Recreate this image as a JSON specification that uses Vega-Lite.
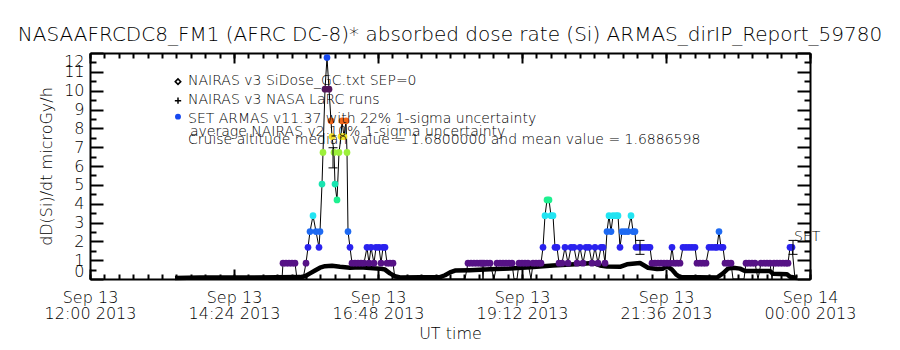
{
  "$schema": "https://vega.github.io/schema/vega-lite/v6.json",
  "width": 720,
  "height": 226,
  "autosize": {"type": "none"},
  "padding": {"left": 90, "top": 53, "right": 90, "bottom": 71},
  "background": "white",
  "title": {"text": "NASAAFRCDC8_FM1 (AFRC DC-8)* absorbed dose rate (Si) ARMAS_dirIP_Report_59780", "font": "DejaVu Sans", "fontSize": 20, "fontWeight": 200, "color": "black", "anchor": "middle", "offset": 7},
  "config": {
    "view": {"stroke": "black", "strokeWidth": 1},
    "axis": {"grid": false, "zindex": 1, "domainColor": "black", "tickColor": "black", "labelColor": "black", "titleColor": "black", "labelFont": "DejaVu Sans", "titleFont": "DejaVu Sans", "titleFontWeight": 200, "labelFontWeight": 200, "domainWidth": 2, "tickWidth": 2}
  },
  "datasets": {
    "nairas": [
      {"t": "2013-09-13T13:25Z", "v": 0.05}, {"t": "2013-09-13T13:50Z", "v": 0.08}, {"t": "2013-09-13T14:40Z", "v": 0.08},
      {"t": "2013-09-13T15:30Z", "v": 0.1}, {"t": "2013-09-13T15:35Z", "v": 0.15}, {"t": "2013-09-13T15:40Z", "v": 0.3},
      {"t": "2013-09-13T15:45Z", "v": 0.45}, {"t": "2013-09-13T15:50Z", "v": 0.6}, {"t": "2013-09-13T15:55Z", "v": 0.68},
      {"t": "2013-09-13T16:02Z", "v": 0.7}, {"t": "2013-09-13T16:10Z", "v": 0.65}, {"t": "2013-09-13T16:20Z", "v": 0.6},
      {"t": "2013-09-13T16:30Z", "v": 0.62}, {"t": "2013-09-13T16:40Z", "v": 0.58}, {"t": "2013-09-13T16:50Z", "v": 0.55},
      {"t": "2013-09-13T16:55Z", "v": 0.5}, {"t": "2013-09-13T17:00Z", "v": 0.3}, {"t": "2013-09-13T17:05Z", "v": 0.15},
      {"t": "2013-09-13T17:10Z", "v": 0.08}, {"t": "2013-09-13T17:50Z", "v": 0.1}, {"t": "2013-09-13T17:55Z", "v": 0.2},
      {"t": "2013-09-13T18:00Z", "v": 0.35}, {"t": "2013-09-13T18:05Z", "v": 0.45}, {"t": "2013-09-13T18:20Z", "v": 0.47},
      {"t": "2013-09-13T18:40Z", "v": 0.52}, {"t": "2013-09-13T19:00Z", "v": 0.56}, {"t": "2013-09-13T19:20Z", "v": 0.63},
      {"t": "2013-09-13T19:43Z", "v": 0.72}, {"t": "2013-09-13T20:05Z", "v": 0.78}, {"t": "2013-09-13T20:23Z", "v": 0.85},
      {"t": "2013-09-13T20:30Z", "v": 0.72}, {"t": "2013-09-13T20:37Z", "v": 0.66}, {"t": "2013-09-13T20:50Z", "v": 0.65},
      {"t": "2013-09-13T20:57Z", "v": 0.78}, {"t": "2013-09-13T21:10Z", "v": 0.85}, {"t": "2013-09-13T21:18Z", "v": 0.6},
      {"t": "2013-09-13T21:27Z", "v": 0.53}, {"t": "2013-09-13T21:33Z", "v": 0.55}, {"t": "2013-09-13T21:37Z", "v": 0.68},
      {"t": "2013-09-13T21:42Z", "v": 0.5}, {"t": "2013-09-13T21:46Z", "v": 0.25}, {"t": "2013-09-13T21:50Z", "v": 0.1},
      {"t": "2013-09-13T22:27Z", "v": 0.08}, {"t": "2013-09-13T22:33Z", "v": 0.3}, {"t": "2013-09-13T22:38Z", "v": 0.55},
      {"t": "2013-09-13T22:43Z", "v": 0.6}, {"t": "2013-09-13T22:50Z", "v": 0.55}, {"t": "2013-09-13T22:55Z", "v": 0.42},
      {"t": "2013-09-13T23:20Z", "v": 0.42}, {"t": "2013-09-13T23:23Z", "v": 0.28}, {"t": "2013-09-13T23:37Z", "v": 0.25},
      {"t": "2013-09-13T23:40Z", "v": 0.12}, {"t": "2013-09-13T23:47Z", "v": 0.05}
    ],
    "armas": [
      {"t": "2013-09-13T13:25Z", "v": 0}, {"t": "2013-09-13T15:12Z", "v": 0},
      {"t": "2013-09-13T15:13Z", "v": 0.84}, {"t": "2013-09-13T15:16Z", "v": 0.84}, {"t": "2013-09-13T15:19Z", "v": 0.84}, {"t": "2013-09-13T15:22Z", "v": 0.84}, {"t": "2013-09-13T15:25Z", "v": 0.84},
      {"t": "2013-09-13T15:27Z", "v": 0}, {"t": "2013-09-13T15:33Z", "v": 0},
      {"t": "2013-09-13T15:36Z", "v": 0.84}, {"t": "2013-09-13T15:38Z", "v": 1.68}, {"t": "2013-09-13T15:40Z", "v": 2.52}, {"t": "2013-09-13T15:43Z", "v": 3.36},
      {"t": "2013-09-13T15:46Z", "v": 2.52}, {"t": "2013-09-13T15:49Z", "v": 1.68}, {"t": "2013-09-13T15:50Z", "v": 2.52}, {"t": "2013-09-13T15:52Z", "v": 5.04},
      {"t": "2013-09-13T15:53Z", "v": 6.72}, {"t": "2013-09-13T15:55Z", "v": 10.08}, {"t": "2013-09-13T15:57Z", "v": 11.76}, {"t": "2013-09-13T15:59Z", "v": 10.08},
      {"t": "2013-09-13T16:01Z", "v": 8.4}, {"t": "2013-09-13T16:02Z", "v": 7.56}, {"t": "2013-09-13T16:04Z", "v": 6.72}, {"t": "2013-09-13T16:05Z", "v": 5.04},
      {"t": "2013-09-13T16:07Z", "v": 4.2}, {"t": "2013-09-13T16:09Z", "v": 6.72}, {"t": "2013-09-13T16:11Z", "v": 7.56}, {"t": "2013-09-13T16:12Z", "v": 8.4},
      {"t": "2013-09-13T16:14Z", "v": 7.56}, {"t": "2013-09-13T16:16Z", "v": 8.4}, {"t": "2013-09-13T16:17Z", "v": 6.72}, {"t": "2013-09-13T16:18Z", "v": 2.52},
      {"t": "2013-09-13T16:20Z", "v": 1.68}, {"t": "2013-09-13T16:22Z", "v": 0.84}, {"t": "2013-09-13T16:25Z", "v": 0.84}, {"t": "2013-09-13T16:28Z", "v": 0.84},
      {"t": "2013-09-13T16:31Z", "v": 0.84}, {"t": "2013-09-13T16:34Z", "v": 0.84}, {"t": "2013-09-13T16:37Z", "v": 1.68}, {"t": "2013-09-13T16:39Z", "v": 0.84},
      {"t": "2013-09-13T16:41Z", "v": 1.68}, {"t": "2013-09-13T16:44Z", "v": 0.84}, {"t": "2013-09-13T16:46Z", "v": 1.68}, {"t": "2013-09-13T16:49Z", "v": 1.68},
      {"t": "2013-09-13T16:51Z", "v": 0.84}, {"t": "2013-09-13T16:53Z", "v": 1.68}, {"t": "2013-09-13T16:55Z", "v": 1.68}, {"t": "2013-09-13T16:57Z", "v": 0.84},
      {"t": "2013-09-13T17:00Z", "v": 0.84}, {"t": "2013-09-13T17:03Z", "v": 0.84}, {"t": "2013-09-13T17:05Z", "v": 0}, {"t": "2013-09-13T18:15Z", "v": 0},
      {"t": "2013-09-13T18:18Z", "v": 0.84}, {"t": "2013-09-13T18:21Z", "v": 0.84}, {"t": "2013-09-13T18:24Z", "v": 0.84}, {"t": "2013-09-13T18:27Z", "v": 0.84},
      {"t": "2013-09-13T18:30Z", "v": 0.84}, {"t": "2013-09-13T18:32Z", "v": 0.84}, {"t": "2013-09-13T18:33Z", "v": 0}, {"t": "2013-09-13T18:34Z", "v": 0.84},
      {"t": "2013-09-13T18:37Z", "v": 0.84}, {"t": "2013-09-13T18:40Z", "v": 0.84}, {"t": "2013-09-13T18:44Z", "v": 0}, {"t": "2013-09-13T18:47Z", "v": 0.84},
      {"t": "2013-09-13T18:50Z", "v": 0.84}, {"t": "2013-09-13T18:53Z", "v": 0.84}, {"t": "2013-09-13T18:56Z", "v": 0.84}, {"t": "2013-09-13T18:59Z", "v": 0.84},
      {"t": "2013-09-13T19:02Z", "v": 0.84}, {"t": "2013-09-13T19:04Z", "v": 0}, {"t": "2013-09-13T19:07Z", "v": 0}, {"t": "2013-09-13T19:09Z", "v": 0.84},
      {"t": "2013-09-13T19:12Z", "v": 0.84}, {"t": "2013-09-13T19:15Z", "v": 0.84}, {"t": "2013-09-13T19:18Z", "v": 0.84}, {"t": "2013-09-13T19:21Z", "v": 0},
      {"t": "2013-09-13T19:23Z", "v": 0.84}, {"t": "2013-09-13T19:26Z", "v": 0.84}, {"t": "2013-09-13T19:29Z", "v": 0.84}, {"t": "2013-09-13T19:31Z", "v": 0.84},
      {"t": "2013-09-13T19:33Z", "v": 1.68}, {"t": "2013-09-13T19:35Z", "v": 3.36}, {"t": "2013-09-13T19:37Z", "v": 4.2}, {"t": "2013-09-13T19:39Z", "v": 4.2},
      {"t": "2013-09-13T19:41Z", "v": 3.36}, {"t": "2013-09-13T19:43Z", "v": 3.36}, {"t": "2013-09-13T19:45Z", "v": 1.68}, {"t": "2013-09-13T19:47Z", "v": 1.68},
      {"t": "2013-09-13T19:49Z", "v": 0.84}, {"t": "2013-09-13T19:52Z", "v": 0.84}, {"t": "2013-09-13T19:55Z", "v": 1.68}, {"t": "2013-09-13T19:58Z", "v": 0.84},
      {"t": "2013-09-13T20:01Z", "v": 1.68}, {"t": "2013-09-13T20:04Z", "v": 1.68}, {"t": "2013-09-13T20:07Z", "v": 0.84}, {"t": "2013-09-13T20:10Z", "v": 1.68},
      {"t": "2013-09-13T20:13Z", "v": 0.84}, {"t": "2013-09-13T20:16Z", "v": 1.68}, {"t": "2013-09-13T20:19Z", "v": 1.68}, {"t": "2013-09-13T20:22Z", "v": 0.84},
      {"t": "2013-09-13T20:25Z", "v": 1.68}, {"t": "2013-09-13T20:28Z", "v": 0.84}, {"t": "2013-09-13T20:31Z", "v": 1.68}, {"t": "2013-09-13T20:33Z", "v": 1.68},
      {"t": "2013-09-13T20:35Z", "v": 0.84}, {"t": "2013-09-13T20:37Z", "v": 2.52}, {"t": "2013-09-13T20:39Z", "v": 3.36}, {"t": "2013-09-13T20:41Z", "v": 2.52},
      {"t": "2013-09-13T20:43Z", "v": 3.36}, {"t": "2013-09-13T20:46Z", "v": 3.36}, {"t": "2013-09-13T20:48Z", "v": 3.36}, {"t": "2013-09-13T20:50Z", "v": 1.68},
      {"t": "2013-09-13T20:52Z", "v": 2.52}, {"t": "2013-09-13T20:55Z", "v": 2.52}, {"t": "2013-09-13T20:58Z", "v": 2.52}, {"t": "2013-09-13T21:01Z", "v": 3.36},
      {"t": "2013-09-13T21:03Z", "v": 2.52}, {"t": "2013-09-13T21:05Z", "v": 2.52}, {"t": "2013-09-13T21:06Z", "v": 1.68}, {"t": "2013-09-13T21:09Z", "v": 1.68},
      {"t": "2013-09-13T21:12Z", "v": 1.68}, {"t": "2013-09-13T21:15Z", "v": 1.68}, {"t": "2013-09-13T21:18Z", "v": 1.68}, {"t": "2013-09-13T21:20Z", "v": 1.68},
      {"t": "2013-09-13T21:22Z", "v": 0.84}, {"t": "2013-09-13T21:25Z", "v": 0.84}, {"t": "2013-09-13T21:28Z", "v": 0.84}, {"t": "2013-09-13T21:31Z", "v": 0.84},
      {"t": "2013-09-13T21:34Z", "v": 0.84}, {"t": "2013-09-13T21:37Z", "v": 0.84}, {"t": "2013-09-13T21:40Z", "v": 0.84}, {"t": "2013-09-13T21:42Z", "v": 1.68},
      {"t": "2013-09-13T21:44Z", "v": 0.84}, {"t": "2013-09-13T21:47Z", "v": 0.84}, {"t": "2013-09-13T21:50Z", "v": 0.84}, {"t": "2013-09-13T21:53Z", "v": 1.68},
      {"t": "2013-09-13T21:56Z", "v": 1.68}, {"t": "2013-09-13T21:59Z", "v": 1.68}, {"t": "2013-09-13T22:02Z", "v": 1.68}, {"t": "2013-09-13T22:05Z", "v": 1.68},
      {"t": "2013-09-13T22:07Z", "v": 0.84}, {"t": "2013-09-13T22:10Z", "v": 0.84}, {"t": "2013-09-13T22:13Z", "v": 0.84}, {"t": "2013-09-13T22:16Z", "v": 0.84},
      {"t": "2013-09-13T22:19Z", "v": 1.68}, {"t": "2013-09-13T22:22Z", "v": 1.68}, {"t": "2013-09-13T22:25Z", "v": 1.68}, {"t": "2013-09-13T22:27Z", "v": 1.68},
      {"t": "2013-09-13T22:29Z", "v": 2.52}, {"t": "2013-09-13T22:31Z", "v": 1.68}, {"t": "2013-09-13T22:33Z", "v": 1.68}, {"t": "2013-09-13T22:35Z", "v": 0.84},
      {"t": "2013-09-13T22:38Z", "v": 0.84}, {"t": "2013-09-13T22:41Z", "v": 0.84}, {"t": "2013-09-13T22:43Z", "v": 0}, {"t": "2013-09-13T22:54Z", "v": 0},
      {"t": "2013-09-13T22:56Z", "v": 0.84}, {"t": "2013-09-13T22:59Z", "v": 0.84}, {"t": "2013-09-13T23:02Z", "v": 0.84}, {"t": "2013-09-13T23:05Z", "v": 0.84},
      {"t": "2013-09-13T23:08Z", "v": 0}, {"t": "2013-09-13T23:11Z", "v": 0.84}, {"t": "2013-09-13T23:14Z", "v": 0.84}, {"t": "2013-09-13T23:17Z", "v": 0.84},
      {"t": "2013-09-13T23:20Z", "v": 0.84}, {"t": "2013-09-13T23:22Z", "v": 0}, {"t": "2013-09-13T23:24Z", "v": 0.84}, {"t": "2013-09-13T23:27Z", "v": 0.84},
      {"t": "2013-09-13T23:30Z", "v": 0.84}, {"t": "2013-09-13T23:33Z", "v": 0.84}, {"t": "2013-09-13T23:36Z", "v": 0.84}, {"t": "2013-09-13T23:38Z", "v": 0.84},
      {"t": "2013-09-13T23:40Z", "v": 1.68}, {"t": "2013-09-13T23:42Z", "v": 1.68}, {"t": "2013-09-13T23:45Z", "v": 0}, {"t": "2013-09-13T23:47Z", "v": 0}
    ],
    "errs": [
      {"t": "2013-09-13T16:03Z", "lo": 5.9, "hi": 6.97},
      {"t": "2013-09-13T21:10Z", "lo": 1.31, "hi": 2.05},
      {"t": "2013-09-13T23:43Z", "lo": 1.31, "hi": 2.05}
    ],
    "notes": [
      {"t": "2013-09-13T13:38Z", "v": 10.53, "label": "NAIRAS v3 SiDose_GC.txt SEP=0"},
      {"t": "2013-09-13T13:38Z", "v": 9.52, "label": "NAIRAS v3 NASA LaRC runs"},
      {"t": "2013-09-13T13:38Z", "v": 8.51, "label": "SET ARMAS v11.37 with 22% 1-sigma uncertainty"},
      {"t": "2013-09-13T13:40Z", "v": 7.82, "label": "average NAIRAS v2 10% 1-sigma uncertainty"},
      {"t": "2013-09-13T13:38Z", "v": 7.39, "label": "Cruise altitude median value = 1.6800000 and mean value = 1.6886598"},
      {"t": "2013-09-13T23:44Z", "v": 2.23, "label": "SET"}
    ]
  },
  "layer": [
    {
      "data": {"name": "nairas"},
      "mark": {"type": "line", "color": "black", "strokeWidth": 4.5, "strokeJoin": "round"},
      "encoding": {
        "x": {"field": "t", "type": "temporal", "scale": {"type": "utc", "domain": [1379073600000, 1379116800000]},
          "axis": {"orient": "bottom", "values": [1379073600000, 1379082240000, 1379090880000, 1379099520000, 1379108160000, 1379116800000],
            "ticks": false, "domain": true, "labelPadding": 10, "labelExpr": "[utcFormat(datum.value, '%b %d'), utcFormat(datum.value, '%H:%M %Y')]",
            "labelFontSize": 16, "labelLineHeight": 16, "labelOverlap": false, "labelFlush": false, "labelBound": false,
            "title": "UT time", "titleFontSize": 16, "titlePadding": 4}},
        "y": {"field": "v", "type": "quantitative", "scale": {"domain": [0, 12], "nice": false, "zero": true},
          "axis": {"orient": "left", "values": [0, 1, 2, 3, 4, 5, 6, 7, 8, 9, 10, 11, 12], "ticks": false, "domain": true, "labelPadding": 6,
            "labelFontSize": 16, "labelFlush": true, "labelOverlap": false, "title": "dD(Si)/dt microGy/h", "titleFontSize": 16, "titlePadding": 9}}
      }
    },
    {
      "data": {"name": "armas"},
      "mark": {"type": "line", "color": "black", "strokeWidth": 1},
      "encoding": {
        "x": {"field": "t", "type": "temporal", "scale": {"type": "utc", "domain": [1379073600000, 1379116800000]},
          "axis": {"orient": "bottom", "values": [1379073600000, 1379082240000, 1379090880000, 1379099520000, 1379108160000, 1379116800000],
            "offset": -10, "tickSize": 10, "labels": false, "domain": false, "title": null}},
        "y": {"field": "v", "type": "quantitative", "scale": {"domain": [0, 12], "nice": false},
          "axis": {"orient": "left", "values": [0, 1, 2, 3, 4, 5, 6, 7, 8, 9, 10, 11, 12], "offset": -13, "tickSize": 13, "labels": false, "domain": false, "title": null}}
      }
    },
    {
      "data": {"name": "armas"},
      "transform": [{"filter": "datum.v > 0"}],
      "mark": {"type": "point", "filled": true, "size": 45, "opacity": 1, "shape": "circle"},
      "encoding": {
        "x": {"field": "t", "type": "temporal", "scale": {"type": "utc", "domain": [1379073600000, 1379116800000]},
          "axis": {"orient": "bottom", "values": [1379073600000, 1379074464000, 1379075328000, 1379076192000, 1379077056000, 1379077920000, 1379078784000, 1379079648000, 1379080512000, 1379081376000, 1379082240000, 1379083104000, 1379083968000, 1379084832000, 1379085696000, 1379086560000, 1379087424000, 1379088288000, 1379089152000, 1379090016000, 1379090880000, 1379091744000, 1379092608000, 1379093472000, 1379094336000, 1379095200000, 1379096064000, 1379096928000, 1379097792000, 1379098656000, 1379099520000, 1379100384000, 1379101248000, 1379102112000, 1379102976000, 1379103840000, 1379104704000, 1379105568000, 1379106432000, 1379107296000, 1379108160000, 1379109024000, 1379109888000, 1379110752000, 1379111616000, 1379112480000, 1379113344000, 1379114208000, 1379115072000, 1379115936000, 1379116800000],
            "offset": -5, "tickSize": 5, "labels": false, "domain": false, "title": null}},
        "y": {"field": "v", "type": "quantitative", "scale": {"domain": [0, 12], "nice": false},
          "axis": {"orient": "left", "values": [0.5, 1.5, 2.5, 3.5, 4.5, 5.5, 6.5, 7.5, 8.5, 9.5, 10.5, 11.5], "offset": -6, "tickSize": 6, "labels": false, "domain": false, "title": null}},
        "color": {"field": "v", "type": "quantitative", "legend": null,
          "scale": {"type": "threshold", "domain": [0.4, 1.2, 2.0, 2.9, 3.8, 4.6, 5.9, 7.1, 8.0, 9.2, 11],
            "range": ["#000000", "#561286", "#2a22ee", "#1e6af2", "#22e4f2", "#1ef090", "#18e4b0", "#9cf03a", "#f2e22a", "#f2661a", "#521458", "#1648f0"]}}
      }
    },
    {
      "data": {"name": "errs"},
      "mark": {"type": "rule", "color": "black", "strokeWidth": 1},
      "encoding": {
        "x": {"field": "t", "type": "temporal", "scale": {"type": "utc", "domain": [1379073600000, 1379116800000]},
          "axis": {"orient": "top", "ticks": false, "labels": false, "domain": true, "title": null}},
        "y": {"field": "lo", "type": "quantitative", "scale": {"domain": [0, 12], "nice": false},
          "axis": {"orient": "right", "ticks": false, "labels": false, "domain": true, "title": null}},
        "y2": {"field": "hi"}
      }
    },
    {
      "data": {"name": "errs"},
      "mark": {"type": "tick", "orient": "horizontal", "size": 9, "thickness": 1, "color": "black", "opacity": 1},
      "encoding": {
        "x": {"field": "t", "type": "temporal", "scale": {"type": "utc", "domain": [1379073600000, 1379116800000]},
          "axis": {"orient": "top", "values": [1379073600000, 1379082240000, 1379090880000, 1379099520000, 1379108160000, 1379116800000],
            "offset": -10, "tickSize": 10, "labels": false, "domain": false, "title": null}},
        "y": {"field": "lo", "type": "quantitative", "scale": {"domain": [0, 12], "nice": false},
          "axis": {"orient": "right", "values": [0, 1, 2, 3, 4, 5, 6, 7, 8, 9, 10, 11, 12], "offset": -13, "tickSize": 13, "labels": false, "domain": false, "title": null}}
      }
    },
    {
      "data": {"name": "errs"},
      "mark": {"type": "tick", "orient": "horizontal", "size": 9, "thickness": 1, "color": "black", "opacity": 1},
      "encoding": {
        "x": {"field": "t", "type": "temporal", "scale": {"type": "utc", "domain": [1379073600000, 1379116800000]},
          "axis": {"orient": "top", "values": [1379073600000, 1379074464000, 1379075328000, 1379076192000, 1379077056000, 1379077920000, 1379078784000, 1379079648000, 1379080512000, 1379081376000, 1379082240000, 1379083104000, 1379083968000, 1379084832000, 1379085696000, 1379086560000, 1379087424000, 1379088288000, 1379089152000, 1379090016000, 1379090880000, 1379091744000, 1379092608000, 1379093472000, 1379094336000, 1379095200000, 1379096064000, 1379096928000, 1379097792000, 1379098656000, 1379099520000, 1379100384000, 1379101248000, 1379102112000, 1379102976000, 1379103840000, 1379104704000, 1379105568000, 1379106432000, 1379107296000, 1379108160000, 1379109024000, 1379109888000, 1379110752000, 1379111616000, 1379112480000, 1379113344000, 1379114208000, 1379115072000, 1379115936000, 1379116800000],
            "offset": -5, "tickSize": 5, "labels": false, "domain": false, "title": null}},
        "y": {"field": "hi", "type": "quantitative", "scale": {"domain": [0, 12], "nice": false},
          "axis": {"orient": "right", "values": [0.5, 1.5, 2.5, 3.5, 4.5, 5.5, 6.5, 7.5, 8.5, 9.5, 10.5, 11.5], "offset": -6, "tickSize": 6, "labels": false, "domain": false, "title": null}}
      }
    },
    {
      "data": {"values": [{"t": "2013-09-13T13:28Z", "v": 10.48}]},
      "mark": {"type": "point", "shape": "diamond", "filled": false, "size": 30, "strokeWidth": 1.5, "color": "black", "opacity": 1},
      "encoding": {
        "x": {"field": "t", "type": "temporal", "axis": null},
        "y": {"field": "v", "type": "quantitative", "axis": null}
      }
    },
    {
      "data": {"values": [{"t": "2013-09-13T13:28Z", "v": 9.47}]},
      "mark": {"type": "point", "shape": "M-1,0H1M0,-1V1", "filled": false, "size": 40, "strokeWidth": 1.5, "color": "black", "opacity": 1},
      "encoding": {
        "x": {"field": "t", "type": "temporal", "axis": null},
        "y": {"field": "v", "type": "quantitative", "axis": null}
      }
    },
    {
      "data": {"values": [{"t": "2013-09-13T13:28Z", "v": 8.62}]},
      "mark": {"type": "point", "shape": "circle", "filled": true, "size": 35, "color": "#1648f0", "opacity": 1},
      "encoding": {
        "x": {"field": "t", "type": "temporal", "axis": null},
        "y": {"field": "v", "type": "quantitative", "axis": null}
      }
    },
    {
      "data": {"name": "notes"},
      "mark": {"type": "text", "align": "left", "baseline": "middle", "font": "DejaVu Sans", "fontSize": 14, "fontWeight": 200, "color": "black"},
      "encoding": {
        "x": {"field": "t", "type": "temporal", "axis": null},
        "y": {"field": "v", "type": "quantitative", "axis": null},
        "text": {"field": "label"}
      }
    }
  ],
  "resolve": {"axis": {"x": "independent", "y": "independent"}}
}
